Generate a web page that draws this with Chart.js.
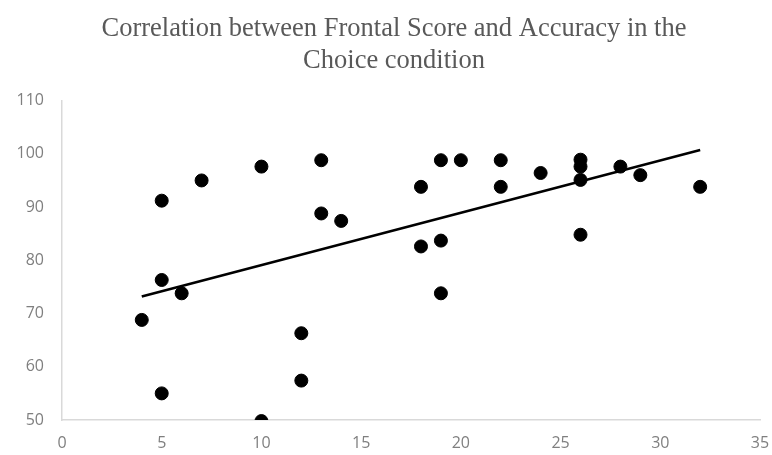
<!DOCTYPE html>
<html>
<head>
<meta charset="utf-8">
<script src="https://cdn.jsdelivr.net/npm/chart.js@4.4.1/dist/chart.umd.min.js"></script>
<style>
    html, body { margin: 0; padding: 0; background: #ffffff; }
    #wrap { width: 772px; height: 455px; position: relative; }
</style>
</head>
<body>
<div id="wrap"><canvas id="corrChart"></canvas></div>
<script>
// Frontal score (x) and accuracy in the Choice condition (y)
const frontalScore = [4, 5, 5, 5, 6, 7, 10, 10, 12, 12, 13, 13, 14, 18, 18, 19, 19, 19, 20, 22, 22, 24, 26, 26, 26, 26, 28, 29, 32];
const accuracy = [68.8, 91.2, 76.3, 55.0, 73.8, 95.0, 97.6, 49.8, 66.3, 57.4, 98.8, 88.8, 87.4, 93.8, 82.6, 98.8, 83.7, 73.8, 98.8, 98.8, 93.8, 96.4, 98.9, 97.6, 95.1, 84.8, 97.6, 96.0, 93.8];
const xTicks = [0, 5, 10, 15, 20, 25, 30, 35];
const yTicks = [50, 60, 70, 80, 90, 100, 110];
const chartTitle = ['Correlation between Frontal Score and Accuracy in the', 'Choice condition'];

// least squares trendline, like the spreadsheet one
function linearFit(xs, ys) {
    const n = xs.length;
    const mx = xs.reduce((a, b) => a + b, 0) / n;
    const my = ys.reduce((a, b) => a + b, 0) / n;
    let sxy = 0, sxx = 0;
    for (let i = 0; i < n; i++) {
        sxy += (xs[i] - mx) * (ys[i] - my);
        sxx += (xs[i] - mx) * (xs[i] - mx);
    }
    const slope = sxy / sxx;
    return { slope: slope, intercept: my - slope * mx };
}

const fit = linearFit(frontalScore, accuracy);
const xMin = Math.min(...frontalScore);
const xMax = Math.max(...frontalScore);
const trendPoints = [
    { x: xMin, y: fit.intercept + fit.slope * xMin },
    { x: xMax, y: fit.intercept + fit.slope * xMax }
];
const scatterPoints = frontalScore.map((x, i) => ({ x: x, y: accuracy[i] }));

const tickFont = { family: "'Open Sans', 'Noto Sans', sans-serif", size: 16 };
const axisGray = '#d9d9d9';
const labelGray = '#7f7f7f';

new Chart(document.getElementById('corrChart'), {
    type: 'scatter',
    data: {
        datasets: [{
            label: 'Accuracy',
            data: scatterPoints,
            backgroundColor: '#000000',
            borderColor: '#000000',
            pointRadius: 6.5,
            pointHoverRadius: 6.5,
            order: 2
        }, {
            type: 'line',
            label: 'Linear trend',
            data: trendPoints,
            borderColor: '#000000',
            borderWidth: 2.5,
            pointRadius: 0,
            fill: false,
            order: 1
        }]
    },
    options: {
        responsive: true,
        maintainAspectRatio: false,
        animation: false,
        // left padding pushes the title centre a bit right, like the original
        layout: { padding: { left: 16, right: 0, top: 0, bottom: 0 } },
        plugins: {
            legend: { display: false },
            tooltip: { enabled: false },
            title: {
                display: true,
                text: chartTitle,
                color: '#595959',
                font: { family: "'Liberation Serif', 'Times New Roman', serif", size: 26.5, weight: 'normal', lineHeight: 1.2 },
                padding: { top: 13, bottom: 24 }
            }
        },
        scales: {
            x: {
                type: 'linear',
                min: 0,
                max: 35,
                afterBuildTicks: scale => { scale.ticks = xTicks.map(v => ({ value: v })); },
                afterFit: scale => {
                    scale.height = 35;
                    scale.paddingLeft = 0;
                    scale.paddingRight = 12;
                },
                grid: { display: false, drawTicks: false },
                border: { display: true, color: axisGray, width: 1.5 },
                ticks: { color: labelGray, font: tickFont, padding: 14 }
            },
            y: {
                type: 'linear',
                min: 50,
                max: 110,
                afterBuildTicks: scale => { scale.ticks = yTicks.map(v => ({ value: v })); },
                afterFit: scale => { scale.width = 46; },
                grid: { display: false, drawTicks: false },
                border: { display: true, color: axisGray, width: 1.5 },
                ticks: { color: labelGray, font: tickFont, padding: 18 }
            }
        }
    }
});
</script>
</body>
</html>
